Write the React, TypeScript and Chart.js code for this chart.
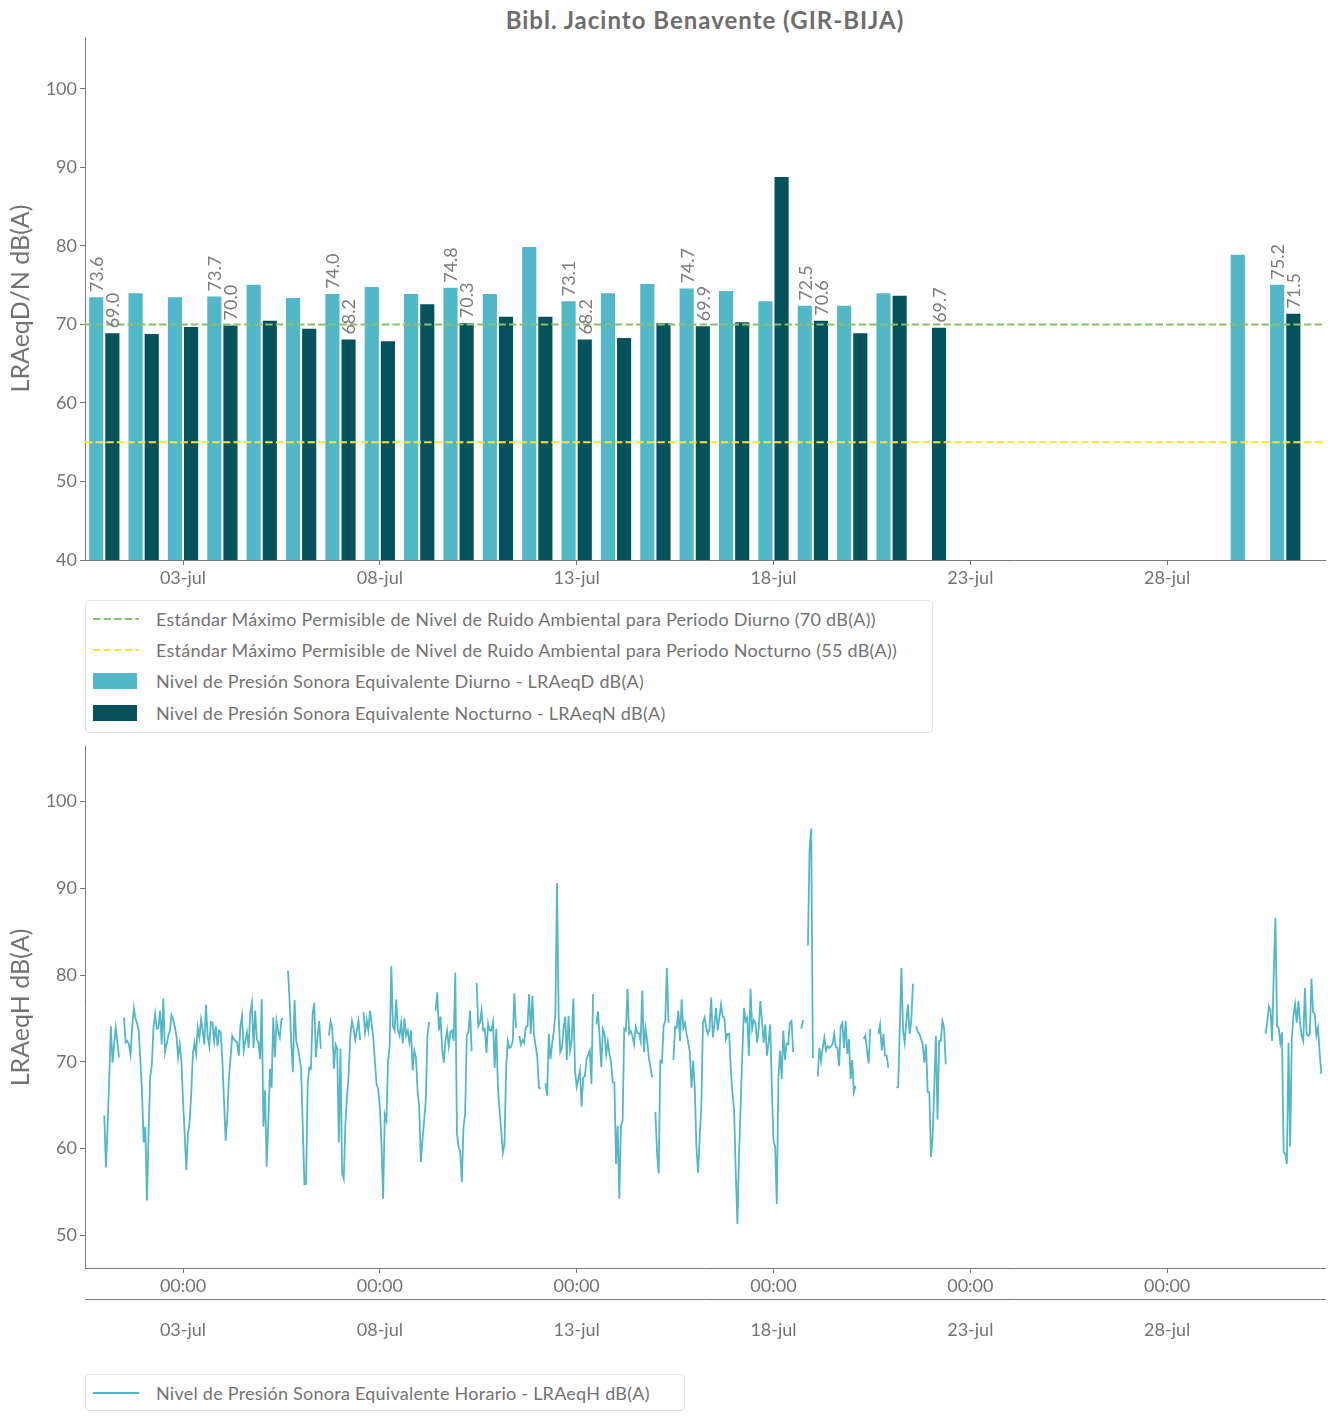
import React, { useEffect, useRef } from 'react';
import Chart from 'chart.js/auto';

const FONT = 'Lato, "Noto Sans", sans-serif';
const TEXT = '#737373';
const AXIS = '#7a7a7a';
const CYAN = '#52b7c6';
const TEAL = '#04525c';
const GREEN = '#8cbf6c';
const YELLOW = '#f6e62c';

// dias del mes (julio)
const days = [
  1, 2, 3, 4, 5, 6, 7, 8, 9, 10, 11, 12, 13, 14, 15, 16,
  17, 18, 19, 20, 21, 22, 23, 24, 25, 26, 27, 28, 29, 30, 31,
];
const tickDays = [3, 8, 13, 18, 23, 28];
const tickLabels = ['03-jul', '08-jul', '13-jul', '18-jul', '23-jul', '28-jul'];
const hourLabels = ['00:00', '00:00', '00:00', '00:00', '00:00', '00:00'];

// LRAeqD / LRAeqN por dia
const diurno = [
  73.6, 74.1, 73.6, 73.7, 75.2, 73.5, 74.0, 74.9, 74.0, 74.8, 74.0, 80.0, 73.1, 74.1, 75.3, 74.7,
  74.4, 73.1, 72.5, 72.5, 74.1, null, null, null, null, null, null, null, null, 79.0, 75.2,
];
const nocturno = [
  69.0, 68.9, 69.8, 70.0, 70.6, 69.6, 68.2, 68.0, 72.7, 70.3, 71.1, 71.1, 68.2, 68.4, 70.3, 69.9,
  70.4, 88.9, 70.6, 69.0, 73.8, 69.7, null, null, null, null, null, null, null, null, 71.5,
];

const limiteDiurno = 70;
const limiteNocturno = 55;

const xMin = 0.51;
const xMax = 32.01;

// LRAeqH, 24 valores por dia
const noData = Array(24).fill(null);
const hourlyByDay: (number | null)[][] = [
  [63.8, 57.8, 62.5, 68.0, 74.1, 69.9, 72.0, 73.9, 72.2, 70.5, null, null, 75.1, 72.2, 72.4, 72.0, 70.8, 74.0, 76.2, 75.0, 74.4, 73.6, 70.1, 66.5],
  [60.7, 62.5, 54.0, 61.7, 68.2, 69.7, 73.9, 75.5, 73.8, 73.9, 75.9, 72.0, 77.3, 71.1, 72.0, 73.0, 73.6, 75.4, 74.9, 74.0, 73.0, 70.5, 72.0, 70.1],
  [65.5, 61.7, 57.5, 61.7, 63.0, 66.3, 70.9, 72.2, 70.9, 73.9, 72.8, 74.9, 73.6, 72.0, 76.6, 73.0, 71.8, 74.6, 74.5, 72.4, 74.1, 71.8, 73.6, 73.4],
  [70.1, 65.5, 60.9, 63.6, 68.2, 70.5, 73.0, 72.6, 72.4, 72.2, 70.7, 74.1, 75.3, 71.3, 72.4, 73.4, 71.6, 75.7, 76.8, 71.6, 75.9, 72.6, 72.2, 70.3],
  [77.2, 62.5, 66.7, 57.9, 62.8, 69.2, 67.0, 75.1, 70.5, 74.7, 73.5, 72.8, 74.9, 75.0, null, null, 80.5, 77.0, 72.0, 68.8, 77.1, 72.4, 71.6, 70.5],
  [69.3, 62.5, 55.9, 55.9, 67.4, 69.3, 69.2, 75.5, 76.8, 70.5, 72.8, 74.7, 71.5, null, null, null, null, 73.0, 74.7, 73.9, 69.2, 72.0, 71.5, 60.7],
  [71.5, 57.1, 56.5, 62.8, 66.0, 68.6, 73.0, 74.7, 73.8, 72.5, 73.6, 74.7, 72.5, null, 75.7, 73.4, 74.8, 73.6, 75.9, 74.3, 72.8, 70.0, 67.4, 66.9],
  [64.8, 60.5, 54.2, 63.9, 63.2, 70.1, 71.8, 81.0, 74.1, 73.6, 77.2, 73.6, 73.0, 74.5, 72.1, 75.0, 73.0, 73.6, 72.2, 73.6, 69.0, 71.3, 70.5, 66.7],
  [64.8, 58.4, 61.0, 63.2, 65.5, 73.0, 74.6, null, null, null, 75.9, 78.0, 73.6, 75.2, 71.5, 69.9, 72.4, 73.6, 71.8, 73.4, 73.6, 72.4, 80.3, 61.7],
  [60.2, 59.6, 56.1, 62.5, 64.0, 73.0, 73.4, 75.9, 71.2, null, null, 79.1, 74.1, 74.5, 75.9, 73.6, 73.8, 71.0, 74.4, 73.6, 73.6, 74.6, 69.3, 73.8],
  [67.0, 64.4, 62.1, 59.5, 60.5, 69.3, 72.4, 71.6, 71.7, 72.4, 77.9, 73.9, null, 73.0, 72.0, 72.5, 72.2, 74.0, 74.1, 77.8, 73.2, 77.6, 73.0, 71.8],
  [70.5, 67.0, 66.9, null, null, 67.5, 66.1, 73.2, 70.3, 72.0, 73.4, 75.5, 90.6, 75.5, 71.1, 71.6, 73.9, 75.2, 70.2, 75.3, 71.3, 72.4, 77.3, 69.0],
  [67.1, 68.0, 69.0, 64.8, 68.2, 68.3, 70.3, 70.8, 71.3, 67.4, 77.8, null, 74.3, 75.8, 72.9, 69.4, 73.8, 73.2, 70.9, 72.3, 70.9, 69.9, 67.6, 67.6],
  [58.2, 62.6, 54.2, 62.6, 63.2, 73.8, 73.6, 78.4, 73.2, 73.5, 73.0, 72.0, 74.0, 73.3, 73.3, 72.4, 78.2, 71.1, 73.8, 72.4, 70.5, 69.3, 68.2, null],
  [64.2, 59.4, 57.1, 70.1, 69.9, 74.1, 74.7, 80.8, 74.5, null, null, 70.2, 74.0, 73.9, 75.9, 72.4, 77.2, 73.9, 74.5, 73.2, 72.2, 71.1, 67.0, 70.1],
  [67.0, 60.2, 57.2, 61.3, 64.8, 74.5, 75.1, 73.9, 73.2, 73.8, 77.4, 72.8, 74.3, 76.2, 73.6, 75.1, 76.6, 75.2, 75.1, 72.6, 73.2, 73.2, 69.0, 66.3],
  [64.4, 57.1, 51.3, 59.4, 65.1, 70.9, 76.2, 74.7, 75.1, 70.7, 78.4, 73.8, 74.8, 74.5, 72.2, 73.8, 77.0, 74.7, 72.2, 74.3, 70.7, 72.2, 74.3, 67.0],
  [60.9, 60.2, 53.6, 68.2, 71.3, 68.0, 73.6, 70.2, 72.1, 72.0, 74.5, 74.7, 71.1, null, null, null, null, 73.8, 74.8, null, null, 83.4, 94.6, 96.9],
  [70.4, null, null, 68.3, 71.6, 70.1, 71.6, 72.8, 71.3, 71.8, 71.6, 71.8, 72.0, 73.2, 71.7, 71.6, 69.5, 74.1, 74.5, 71.6, 74.7, 70.9, 72.6, 68.0],
  [70.2, 66.5, 67.2, null, null, null, null, 72.6, 73.0, 71.3, 69.8, 73.8, null, null, null, null, 73.2, 74.3, 71.3, 73.2, 70.7, 70.7, 69.3, null],
  [null, null, null, 67.0, 67.1, 73.9, 80.8, 73.6, 72.2, 74.7, 76.6, 73.2, 74.7, 79.0, null, 74.1, 73.4, 73.2, 72.6, 72.0, 69.9, 72.0, 66.5, 66.5],
  [59.0, 61.3, 67.0, 73.0, 63.3, 72.4, 72.4, 74.7, 73.9, 69.7, null, null, null, null, null, null, null, null, null, null, null, null, null, null],
  noData, noData, noData, noData, noData, noData, noData,
  [null, null, null, null, null, null, null, null, null, null, null, null, 73.2, 74.5, 76.4, 76.0, 72.4, 80.3, 86.6, 74.1, 73.9, 72.2, 73.4, 59.6],
  [59.4, 58.2, 72.2, 60.2, 72.6, 75.3, 76.6, 74.5, 77.0, 74.5, 73.0, 72.4, 78.5, 73.2, 73.0, 73.2, 79.6, 75.7, 75.5, 73.0, 73.9, 71.0, 68.6, null],
];

const hourly = hourlyByDay.flat();

Chart.defaults.font.family = FONT;
Chart.defaults.font.size = 18;
Chart.defaults.color = TEXT;

const setTicks = (values: number[]) => (scale: any) => {
  scale.ticks = values.map((value) => ({ value }));
};

// etiquetas verticales cada 3 dias
const barLabels = {
  id: 'barLabels',
  afterDatasetsDraw(chart: any) {
    const ctx = chart.ctx;
    ctx.save();
    ctx.font = `18px ${FONT}`;
    ctx.fillStyle = '#7c7c7c';
    ctx.textAlign = 'left';
    ctx.textBaseline = 'middle';
    [0, 1].forEach((di) => {
      const meta = chart.getDatasetMeta(di);
      const values = chart.data.datasets[di].data;
      meta.data.forEach((bar: any, i: number) => {
        const v = values[i].y;
        if (i % 3 !== 0 || v == null) return;
        ctx.save();
        ctx.translate(bar.x, bar.y - 4);
        ctx.rotate(-Math.PI / 2);
        ctx.fillText(v.toFixed(1), 0, 1);
        ctx.restore();
      });
    });
    ctx.restore();
  },
};

const axisGrid = { display: true, drawOnChartArea: false, drawTicks: true, tickLength: 5, color: AXIS, offset: false };
const axisBorder = { display: true, color: AXIS, width: 1 };

const DailyChart: React.FC = () => {
  const chartRef = useRef<HTMLCanvasElement>(null);

  useEffect(() => {
    if (!chartRef.current) return;
    const chart = new Chart(chartRef.current, {
      type: 'bar',
      data: {
        datasets: [
          {
            label: 'Nivel de Presión Sonora Equivalente Diurno - LRAeqD dB(A)',
            data: days.map((d, i) => ({ x: d, y: diurno[i] })),
            backgroundColor: CYAN,
            borderColor: '#ffffff',
            borderWidth: 1,
            categoryPercentage: 0.82,
            barPercentage: 1.0,
            order: 2,
          },
          {
            label: 'Nivel de Presión Sonora Equivalente Nocturno - LRAeqN dB(A)',
            data: days.map((d, i) => ({ x: d, y: nocturno[i] })),
            backgroundColor: TEAL,
            borderColor: '#ffffff',
            borderWidth: 1,
            categoryPercentage: 0.82,
            barPercentage: 1.0,
            order: 2,
          },
          {
            type: 'line',
            label: 'Estándar Diurno',
            data: [{ x: xMin, y: limiteDiurno }, { x: xMax, y: limiteDiurno }],
            borderColor: GREEN,
            borderWidth: 2,
            borderDash: [7.4, 3.2],
            pointRadius: 0,
            order: 1,
          },
          {
            type: 'line',
            label: 'Estándar Nocturno',
            data: [{ x: xMin, y: limiteNocturno }, { x: xMax, y: limiteNocturno }],
            borderColor: YELLOW,
            borderWidth: 2,
            borderDash: [7.4, 3.2],
            pointRadius: 0,
            order: 1,
          },
        ] as any,
      },
      options: {
        animation: false,
        responsive: true,
        maintainAspectRatio: false,
        layout: { padding: { top: 37, right: 13, left: 0, bottom: 0 } },
        plugins: { legend: { display: false }, tooltip: { enabled: false } },
        scales: {
          x: {
            type: 'linear',
            min: xMin,
            max: xMax,
            offset: false,
            afterBuildTicks: setTicks(tickDays),
            afterFit: (s: any) => { s.height = 40; },
            ticks: { callback: (_v: any, i: number) => tickLabels[i], padding: 2, maxRotation: 0 },
            grid: axisGrid,
            border: axisBorder,
          },
          y: {
            min: 40,
            max: 106.62,
            afterBuildTicks: setTicks([40, 50, 60, 70, 80, 90, 100]),
            afterFit: (s: any) => { s.width = 85; },
            ticks: { padding: 3 },
            grid: axisGrid,
            border: axisBorder,
            title: { display: true, text: 'LRAeqD/N dB(A)', font: { size: 25 }, color: TEXT, padding: { top: 6, bottom: 0 } },
          },
        },
      } as any,
      plugins: [barLabels],
    });
    return () => chart.destroy();
  }, []);

  return <canvas ref={chartRef} />;
};

const HourlyChart: React.FC = () => {
  const chartRef = useRef<HTMLCanvasElement>(null);

  useEffect(() => {
    if (!chartRef.current) return;
    const chart = new Chart(chartRef.current, {
      type: 'line',
      data: {
        datasets: [
          {
            label: 'Nivel de Presión Sonora Equivalente Horario - LRAeqH dB(A)',
            data: hourly.map((v, h) => ({ x: 1 + h / 24, y: v })),
            borderColor: CYAN,
            borderWidth: 1.8,
            pointRadius: 0,
            spanGaps: false,
            tension: 0,
          },
        ],
      },
      options: {
        animation: false,
        responsive: true,
        maintainAspectRatio: false,
        layout: { padding: { top: 0, right: 13, left: 0, bottom: 0 } },
        plugins: { legend: { display: false }, tooltip: { enabled: false } },
        scales: {
          x: {
            type: 'linear',
            min: xMin,
            max: xMax,
            weight: 0,
            afterBuildTicks: setTicks(tickDays),
            afterFit: (s: any) => { s.height = 31; },
            ticks: { callback: (_v: any, i: number) => hourLabels[i], padding: 2, maxRotation: 0 },
            grid: axisGrid,
            border: axisBorder,
          },
          x2: {
            type: 'linear',
            position: 'bottom',
            min: xMin,
            max: xMax,
            weight: 1,
            afterBuildTicks: setTicks(tickDays),
            afterFit: (s: any) => { s.height = 61; },
            ticks: { callback: (_v: any, i: number) => tickLabels[i], padding: 20, maxRotation: 0 },
            grid: { display: false, drawTicks: false },
            border: axisBorder,
          },
          y: {
            min: 46.21,
            max: 106.32,
            afterBuildTicks: setTicks([50, 60, 70, 80, 90, 100]),
            afterFit: (s: any) => { s.width = 85; },
            ticks: { padding: 3 },
            grid: axisGrid,
            border: axisBorder,
            title: { display: true, text: 'LRAeqH dB(A)', font: { size: 25 }, color: TEXT, padding: { top: 6, bottom: 0 } },
          },
        },
      } as any,
    });
    return () => chart.destroy();
  }, []);

  return <canvas ref={chartRef} />;
};

const DashLine: React.FC<{ color: string; dashed?: boolean }> = ({ color, dashed }) => (
  <svg width={46} height={10} style={{ display: 'block' }}>
    <line x1={0} y1={5} x2={46} y2={5} stroke={color} strokeWidth={2} strokeDasharray={dashed ? '7.4 3.2' : undefined} />
  </svg>
);

const Swatch: React.FC<{ color: string }> = ({ color }) => (
  <div style={{ width: 44, height: 16, background: color }} />
);

const LegendRow: React.FC<{ handle: React.ReactNode; text: string }> = ({ handle, text }) => (
  <div style={{ display: 'flex', alignItems: 'center', height: 31.3 }}>
    <div style={{ width: 46, marginLeft: 7, marginRight: 17, display: 'flex', alignItems: 'center' }}>{handle}</div>
    <span>{text}</span>
  </div>
);

const legendBox: React.CSSProperties = {
  position: 'absolute',
  left: 85,
  boxSizing: 'border-box',
  border: '1px solid #e3e3e3',
  borderRadius: 4,
  background: '#fff',
  fontFamily: FONT,
  fontSize: 18,
  letterSpacing: 0.25,
  color: TEXT,
  whiteSpace: 'nowrap',
};

const App: React.FC = () => (
  <div style={{ position: 'relative', width: 1338, height: 1421, background: '#fff', fontFamily: FONT }}>
    <style>{'body { margin: 0; }'}</style>
    <div
      style={{
        position: 'absolute', top: 5, left: 85, width: 1240, textAlign: 'center',
        fontWeight: 700, fontSize: 24, letterSpacing: 1, color: '#6e6e6e',
      }}
    >
      Bibl. Jacinto Benavente (GIR-BIJA)
    </div>
    <div style={{ position: 'absolute', top: 0, left: 0, width: 1338, height: 600 }}>
      <DailyChart />
    </div>
    <div style={{ ...legendBox, top: 600, width: 848, height: 133, paddingTop: 2 }}>
      <LegendRow handle={<DashLine color={GREEN} dashed />} text="Estándar Máximo Permisible de Nivel de Ruido Ambiental para Periodo Diurno (70 dB(A))" />
      <LegendRow handle={<DashLine color={YELLOW} dashed />} text="Estándar Máximo Permisible de Nivel de Ruido Ambiental para Periodo Nocturno (55 dB(A))" />
      <LegendRow handle={<Swatch color={CYAN} />} text="Nivel de Presión Sonora Equivalente Diurno - LRAeqD dB(A)" />
      <LegendRow handle={<Swatch color={TEAL} />} text="Nivel de Presión Sonora Equivalente Nocturno - LRAeqN dB(A)" />
    </div>
    <div style={{ position: 'absolute', top: 733, left: 0, width: 1338, height: 627 }}>
      <HourlyChart />
    </div>
    <div style={{ ...legendBox, top: 1374, width: 600, height: 37, paddingTop: 2 }}>
      <LegendRow handle={<DashLine color={CYAN} />} text="Nivel de Presión Sonora Equivalente Horario - LRAeqH dB(A)" />
    </div>
  </div>
);

export default App;
